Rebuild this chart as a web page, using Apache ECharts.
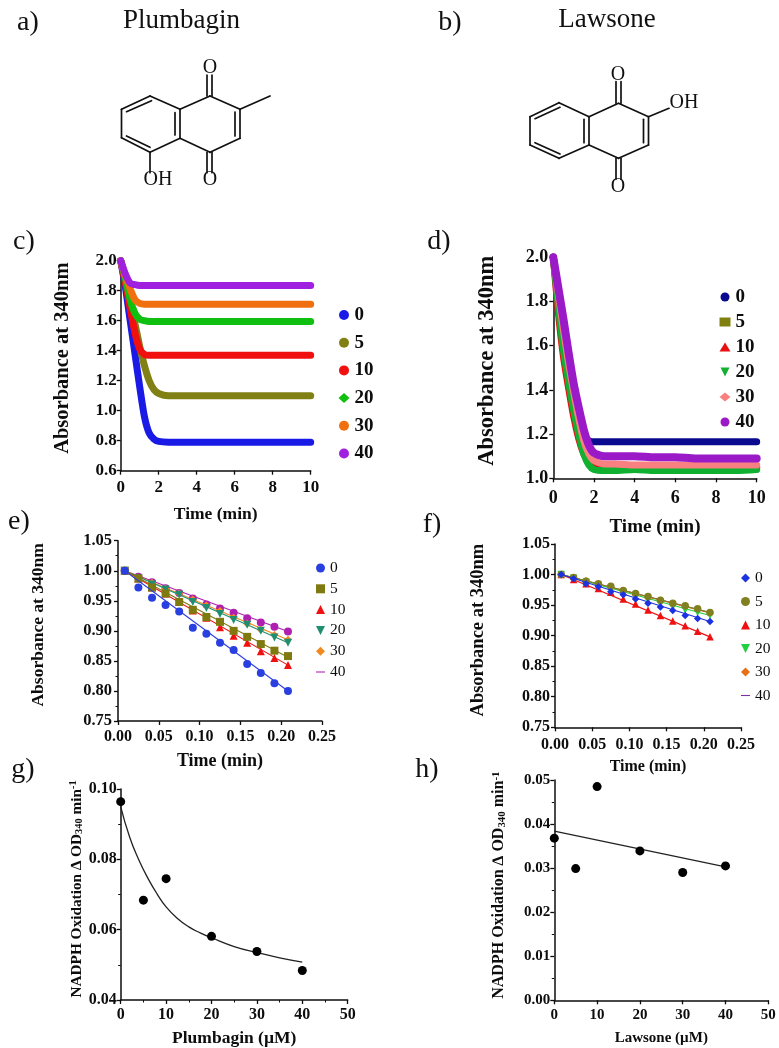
<!DOCTYPE html>
<html>
<head>
<meta charset="utf-8">
<style>html,body{margin:0;padding:0;background:#fff}#chart{width:779px;height:1048px}</style>
<script src="https://cdn.jsdelivr.net/npm/echarts@6/dist/echarts.min.js"></script>
</head>
<body>
<div id="chart"></div>
<script>
// ---- Data ----
const doses = ['0', '5', '10', '20', '30', '40'];

const timeLong = [0, 0.25, 0.5, 0.75, 1, 1.25, 1.5, 1.75, 2, 2.5, 3, 4, 5, 6, 7, 8, 9, 10];
const cDose0  = [2.0, 1.82, 1.60, 1.38, 1.16, 0.96, 0.85, 0.81, 0.795, 0.79, 0.79, 0.79, 0.79, 0.79, 0.79, 0.79, 0.79, 0.79];
const cDose5  = [2.0, 1.87, 1.72, 1.58, 1.43, 1.30, 1.20, 1.14, 1.115, 1.10, 1.10, 1.10, 1.10, 1.10, 1.10, 1.10, 1.10, 1.10];
const cDose10 = [2.0, 1.85, 1.68, 1.52, 1.41, 1.375, 1.37, 1.37, 1.37, 1.37, 1.37, 1.37, 1.37, 1.37, 1.37, 1.37, 1.37, 1.37];
const cDose20 = [2.0, 1.88, 1.74, 1.65, 1.61, 1.60, 1.595, 1.595, 1.595, 1.595, 1.595, 1.595, 1.595, 1.595, 1.595, 1.595, 1.595, 1.595];
const cDose30 = [2.0, 1.90, 1.81, 1.74, 1.715, 1.71, 1.71, 1.71, 1.71, 1.71, 1.71, 1.71, 1.71, 1.71, 1.71, 1.71, 1.71, 1.71];
const cDose40 = [2.0, 1.91, 1.85, 1.84, 1.835, 1.835, 1.835, 1.835, 1.835, 1.835, 1.835, 1.835, 1.835, 1.835, 1.835, 1.835, 1.835, 1.835];

const dDose0  = [2.0, 1.85, 1.70, 1.55, 1.42, 1.30, 1.20, 1.17, 1.165, 1.165, 1.165, 1.165, 1.165, 1.165, 1.165, 1.165, 1.165, 1.165];
const dDose5  = [2.0, 1.80, 1.60, 1.45, 1.32, 1.20, 1.12, 1.07, 1.05, 1.05, 1.05, 1.05, 1.05, 1.05, 1.05, 1.05, 1.05, 1.05];
const dDose10 = [2.0, 1.75, 1.55, 1.41, 1.28, 1.18, 1.11, 1.07, 1.05, 1.045, 1.045, 1.045, 1.045, 1.045, 1.045, 1.045, 1.045, 1.05];
const dDose20 = [2.0, 1.78, 1.58, 1.44, 1.31, 1.20, 1.11, 1.06, 1.04, 1.035, 1.035, 1.04, 1.035, 1.035, 1.035, 1.035, 1.035, 1.04];
const dDose30 = [2.0, 1.83, 1.67, 1.52, 1.39, 1.27, 1.17, 1.11, 1.08, 1.065, 1.065, 1.06, 1.06, 1.06, 1.06, 1.06, 1.06, 1.06];
const dDose40 = [2.0, 1.86, 1.72, 1.57, 1.43, 1.32, 1.22, 1.15, 1.115, 1.10, 1.10, 1.10, 1.095, 1.095, 1.09, 1.09, 1.09, 1.09];

const timeShort = [0.0083, 0.025, 0.0417, 0.0583, 0.075, 0.0917, 0.1083, 0.125, 0.1417, 0.1583, 0.175, 0.1917, 0.2083];
const eDose0  = [1.0, 0.972, 0.955, 0.943, 0.932, 0.905, 0.895, 0.880, 0.868, 0.845, 0.830, 0.813, 0.800];
const eDose5  = [1.0, 0.987, 0.972, 0.962, 0.948, 0.935, 0.923, 0.915, 0.900, 0.890, 0.878, 0.867, 0.858];
const eDose10 = [1.0, 0.987, 0.972, 0.962, 0.948, 0.934, 0.922, 0.906, 0.892, 0.880, 0.866, 0.855, 0.843];
const eDose20 = [1.0, 0.987, 0.977, 0.969, 0.960, 0.948, 0.938, 0.928, 0.918, 0.910, 0.900, 0.889, 0.880];
const eDose30 = [1.0, 0.988, 0.980, 0.970, 0.962, 0.952, 0.942, 0.933, 0.922, 0.912, 0.902, 0.893, 0.885];
const eDose40 = [1.0, 0.990, 0.981, 0.971, 0.963, 0.954, 0.944, 0.937, 0.930, 0.921, 0.914, 0.907, 0.899];
const eFitEnd = [0.800, 0.856, 0.843, 0.880, 0.885, 0.899];

const fDose0  = [1.0, 0.993, 0.985, 0.980, 0.972, 0.967, 0.960, 0.953, 0.947, 0.941, 0.933, 0.928, 0.923];
const fDose5  = [1.0, 0.995, 0.989, 0.985, 0.981, 0.974, 0.969, 0.964, 0.958, 0.953, 0.949, 0.944, 0.938];
const fDose10 = [1.0, 0.992, 0.985, 0.977, 0.971, 0.960, 0.952, 0.942, 0.933, 0.924, 0.916, 0.907, 0.898];
const fDose20 = [1.0, 0.994, 0.987, 0.982, 0.975, 0.970, 0.964, 0.958, 0.952, 0.947, 0.942, 0.938, 0.933];
const fDose30 = [1.0, 0.995, 0.990, 0.984, 0.979, 0.974, 0.968, 0.963, 0.958, 0.952, 0.948, 0.943, 0.937];
const fDose40 = [1.0, 0.995, 0.990, 0.985, 0.979, 0.974, 0.969, 0.964, 0.959, 0.953, 0.948, 0.943, 0.938];
const fFitEnd = [0.923, 0.938, 0.898, 0.933, 0.937, 0.938];

const concentrations = [0, 5, 10, 20, 30, 40];
const gRates = [0.0964, 0.0684, 0.0745, 0.0581, 0.0538, 0.0484];
const gFitX = [0, 2, 4, 6, 8, 10, 12.5, 15, 17.5, 20, 25, 30, 35, 40];
const gFitY = [0.0950, 0.0862, 0.0798, 0.0746, 0.0702, 0.0665, 0.0632, 0.0608, 0.0591, 0.0577, 0.0552, 0.0535, 0.0520, 0.0508];
const hRates = [0.0368, 0.0299, 0.0485, 0.0339, 0.0290, 0.0305];
const hFitX = [0, 40];
const hFitY = [0.0384, 0.0303];

// ---- Styles ----
const SERIF = '"Liberation Serif", "Times New Roman", serif';
const INK = '#0d0d0d';
const DOWN = 'path://M0 0H100L50 100Z';
const cColors = ['#1a1ae6', '#808015', '#f01010', '#10c010', '#f07010', '#a020e0'];
const dColors = ['#0a0a90', '#808010', '#e81010', '#10b030', '#f88080', '#9a1ac8'];
const eColors = ['#2a3fe0', '#7f7a10', '#ef1010', '#1f8f70', '#f08a20', '#b020b0'];
const fColors = ['#1c32e0', '#808020', '#ef1010', '#20d040', '#e87018', '#8030a0'];
const cSymbols = ['circle', 'circle', 'circle', 'diamond', 'circle', 'circle'];
const dSymbols = ['circle', 'rect', 'triangle', DOWN, 'diamond', 'circle'];
const eSymbols = ['circle', 'rect', 'triangle', DOWN, 'diamond', 'circle'];
const fSymbols = ['diamond', 'circle', 'triangle', DOWN, 'diamond', 'circle'];
const cWidths = [7, 7, 7, 7, 7, 7];
const dWidths = [7, 7, 7, 7, 7, 8];

const grids = [
  { left: 120.7, right: 310.7, top: 260.7, bottom: 470.7 },
  { left: 553.3, right: 756.7, top: 257.3, bottom: 478.3 },
  { left: 118,   right: 322,   top: 540.7, bottom: 721 },
  { left: 555,   right: 741,   top: 544,   bottom: 727.3 },
  { left: 120.7, right: 347.7, top: 789,   bottom: 1000 },
  { left: 554.3, right: 768.3, top: 780,   bottom: 1000.3 }
].map(g => ({ left: g.left, top: g.top, width: g.right - g.left, height: g.bottom - g.top, containLabel: false }));

function axis(type, idx, o) {
  return {
    type: 'value', gridIndex: idx, min: o.min, max: o.max, interval: o.interval,
    position: type === 'x' ? 'bottom' : 'left',
    name: o.name, nameLocation: 'middle', nameGap: o.gap,
    nameTextStyle: Object.assign({ fontFamily: SERIF, fontWeight: 'bold', fontSize: o.nameSize, color: INK,
      padding: [0, 0, 0, o.namePad || 0] }, o.nameExtra || {}),
    splitLine: { show: false },
    axisLine: { show: true, onZero: false, lineStyle: { color: INK, width: 1.5 } },
    axisTick: { show: true, length: 4, lineStyle: { color: INK, width: 1.3 } },
    minorTick: { show: !!o.minor, splitNumber: 2, length: 2.5, lineStyle: { color: INK, width: 1 } },
    axisLabel: {
      fontFamily: SERIF, fontWeight: 'bold', fontSize: o.labelSize, color: INK, margin: o.margin,
      showMinLabel: true, showMaxLabel: true, hideOverlap: false,
      formatter: v => Number(v).toFixed(o.dec)
    }
  };
}

const ABS = 'Absorbance at 340nm';
const TIME = 'Time (min)';
const rateRich = size => ({
  rich: {
    b: { fontFamily: SERIF, fontWeight: 'bold', fontSize: size, color: INK },
    s: { fontFamily: SERIF, fontWeight: 'bold', fontSize: size * 0.68, color: INK, padding: [0, 0, -6, 0] },
    p: { fontFamily: SERIF, fontWeight: 'bold', fontSize: size * 0.68, color: INK, padding: [0, 0, 6, 0] }
  }
});
const rateName = '{b|NADPH Oxidation \u2206 OD}{s|340}{b| min}{p|-1}';

const xAxes = [
  axis('x', 0, { min: 0, max: 10, interval: 2, dec: 0, name: TIME, gap: 35, nameSize: 17.5, labelSize: 17, margin: 8 }),
  axis('x', 1, { min: 0, max: 10, interval: 2, dec: 0, name: TIME, gap: 39, nameSize: 19, labelSize: 18, margin: 11 }),
  axis('x', 2, { min: 0, max: 0.25, interval: 0.05, dec: 2, name: TIME, gap: 31, nameSize: 18, labelSize: 16, margin: 8 }),
  axis('x', 3, { min: 0, max: 0.25, interval: 0.05, dec: 2, name: TIME, gap: 32, nameSize: 16, labelSize: 16, margin: 10 }),
  axis('x', 4, { min: 0, max: 50, interval: 10, dec: 0, name: 'Plumbagin (\u00b5M)', gap: 29, nameSize: 17.5, labelSize: 16, margin: 7, minor: true }),
  axis('x', 5, { min: 0, max: 50, interval: 10, dec: 0, name: 'Lawsone (\u00b5M)', gap: 30, nameSize: 15, labelSize: 15, margin: 7 })
];
const yAxes = [
  axis('y', 0, { min: 0.6, max: 2.0, interval: 0.2, dec: 1, name: ABS, gap: 47, nameSize: 20.5, namePad: 15, labelSize: 17, margin: 4 }),
  axis('y', 1, { min: 1.0, max: 2.0, interval: 0.2, dec: 1, name: ABS, gap: 55, nameSize: 22.5, namePad: 14, labelSize: 18, margin: 5 }),
  axis('y', 2, { min: 0.75, max: 1.05, interval: 0.05, dec: 2, name: ABS, gap: 71, nameSize: 17.5, namePad: 12, labelSize: 16.5, margin: 6, minor: true }),
  axis('y', 3, { min: 0.75, max: 1.05, interval: 0.05, dec: 2, name: ABS, gap: 67, nameSize: 18.5, namePad: 11, labelSize: 16, margin: 5, minor: true }),
  axis('y', 4, { min: 0.04, max: 0.10, interval: 0.02, dec: 2, name: rateName, gap: 36, nameSize: 15.3, namePad: 11, nameExtra: rateRich(15.3), labelSize: 16, margin: 4, minor: true }),
  axis('y', 5, { min: 0, max: 0.05, interval: 0.01, dec: 2, name: rateName, gap: 47, nameSize: 16, namePad: 10, nameExtra: rateRich(16), labelSize: 15, margin: 4, minor: true })
];

const zip = (xs, ys) => xs.map((x, i) => [x, ys[i]]);
const series = [];

function thick(panel, idx, arrays, colors, symbols, widths) {
  doses.forEach((d, i) => series.push({
    type: 'line', name: panel + ':' + d, xAxisIndex: idx, yAxisIndex: idx,
    data: zip(timeLong, arrays[i]), smooth: 0.25, clip: false, showSymbol: false, symbol: symbols[i], symbolSize: 6,
    color: colors[i], lineStyle: { color: colors[i], width: widths[i], cap: 'round', join: 'round' }, silent: true, z: 2 + i
  }));
}
thick('c', 0, [cDose0, cDose5, cDose10, cDose20, cDose30, cDose40], cColors, cSymbols, cWidths);
thick('d', 1, [dDose0, dDose5, dDose10, dDose20, dDose30, dDose40], dColors, dSymbols, dWidths);

function kinetics(panel, idx, arrays, fits, colors, symbols, sizes, hideLast) {
  for (let i = doses.length - 1; i >= 0; i--) {
    series.push({
      type: 'line', name: panel + 'fit:' + doses[i], xAxisIndex: idx, yAxisIndex: idx,
      data: [[timeShort[0], arrays[i][0]], [timeShort[timeShort.length - 1], fits[i]]],
      symbol: 'none', lineStyle: { color: colors[i], width: 1.1 }, silent: true, z: 3 + (doses.length - i)
    });
    series.push({
      type: 'scatter', name: panel + ':' + doses[i], xAxisIndex: idx, yAxisIndex: idx,
      data: zip(timeShort, arrays[i]), symbol: symbols[i], symbolSize: sizes[i],
      itemStyle: { color: colors[i], opacity: hideLast && i === doses.length - 1 ? 0 : 1 }, clip: false, silent: true, z: 3 + (doses.length - i)
    });
  }
}
kinetics('e', 2, [eDose0, eDose5, eDose10, eDose20, eDose30, eDose40], eFitEnd, eColors, eSymbols, [8, 8, 8, 8, 8, 8], false);
kinetics('f', 3, [fDose0, fDose5, fDose10, fDose20, fDose30, fDose40], fFitEnd, fColors, fSymbols, [7.5, 7.5, 7.5, 7.5, 7.5, 7.5], true);

function rates(name, idx, ys, fx, fy, smooth) {
  series.push({
    type: 'line', name: name + 'fit', xAxisIndex: idx, yAxisIndex: idx, data: zip(fx, fy), smooth: smooth,
    symbol: 'none', clip: false, lineStyle: { color: '#222', width: 1.3 }, silent: true, z: 3
  });
  series.push({
    type: 'scatter', name: name, xAxisIndex: idx, yAxisIndex: idx, data: zip(concentrations, ys),
    symbol: 'circle', symbolSize: 9, clip: false, itemStyle: { color: '#000', opacity: 1 }, silent: true, z: 4
  });
}
rates('g', 4, gRates, gFitX, gFitY, 0.5);
rates('h', 5, hRates, hFitX, hFitY, false);

function legend(panel, o, icons, colors, lineLast) {
  return {
    show: true, orient: 'vertical', left: o.left, top: o.top, padding: 0, selectedMode: false,
    itemWidth: o.iconW, itemHeight: o.iconH, itemGap: o.spacing - o.font,
    lineStyle: { width: 0, opacity: 0 },
    textStyle: { fontFamily: SERIF, fontWeight: o.weight, fontSize: o.font, color: INK },
    formatter: n => n.split(':')[1],
    data: doses.map((d, i) => {
      const item = { name: panel + ':' + d, itemStyle: { color: colors[i], opacity: 1 } };
      item.icon = lineLast && i === doses.length - 1 ? 'path://M0 44H100V56H0Z' : icons[i];
      return item;
    })
  };
}
const legends = [
  legend('c', { left: 338.5, top: 305.5, iconW: 11, iconH: 10, spacing: 27.7, font: 19, weight: 'bold' }, cSymbols, cColors),
  legend('d', { left: 719.5, top: 287.5, iconW: 11, iconH: 9, spacing: 25, font: 19, weight: 'bold' }, dSymbols, dColors),
  legend('e', { left: 316, top: 560, iconW: 9, iconH: 9, spacing: 20.3, font: 15.5, weight: 'normal' }, eSymbols, eColors, true),
  legend('f', { left: 741, top: 570, iconW: 9, iconH: 9, spacing: 23, font: 15.5, weight: 'normal' }, fSymbols, fColors, true)
];

// ---- Labels and chemical structures (not data) ----
const panelLabels = [
  ['a)', 28, 23], ['b)', 450, 23],
  ['c)', 24, 242], ['d)', 439, 242],
  ['e)', 19, 522], ['f)', 432, 525],
  ['g)', 23, 770], ['h)', 427, 770]
];
const moleculeTitles = [['Plumbagin', 181.5, 21], ['Lawsone', 607, 20]];

// bond endpoints: x in reference pixels x 2, y in reference pixels x 3
const plumbaginBonds = [
  [420,288,480,328],[480,328,540,288],[480,328,480,415],[470,336,470,408],[480,415,420,457],[420,457,360,415],
  [360,415,360,328],[360,328,420,288],[360,328,300,288],[300,288,243,328],[303,302,253,335],[243,328,243,413],
  [243,413,300,457],[253,408,300,442],[300,457,360,415],[350,338,350,405],
  [414,225,414,288],[424,225,424,288],[414,457,414,518],[424,457,424,518],[300,457,300,518]
];
const lawsoneBonds = [
  [1237,310,1297,350],[1297,350,1338,325],[1297,350,1297,435],[1287,358,1287,428],[1297,435,1237,475],[1237,475,1178,435],
  [1178,435,1178,350],[1178,350,1237,310],[1178,350,1118,308],[1118,308,1060,350],[1120,322,1070,356],[1060,350,1060,435],
  [1060,435,1118,475],[1070,428,1120,462],[1118,475,1178,435],[1168,358,1168,428],
  [1232,245,1232,310],[1242,245,1242,310],[1232,475,1232,538],[1242,475,1242,538]
];
const atomLabels = [
  ['O', 210, 68], ['OH', 158, 180], ['O', 210, 180],
  ['O', 618, 75], ['OH', 684, 103], ['O', 618, 187]
];

const graphicEls = [];
panelLabels.forEach(([t, x, y]) => graphicEls.push({
  type: 'text', x, y, silent: true,
  style: { text: t, font: '28px ' + SERIF, fill: '#111', textAlign: 'center', textVerticalAlign: 'middle' }
}));
moleculeTitles.forEach(([t, x, y]) => graphicEls.push({
  type: 'text', x, y, silent: true,
  style: { text: t, font: '27px ' + SERIF, fill: '#111', textAlign: 'center', textVerticalAlign: 'middle' }
}));
plumbaginBonds.concat(lawsoneBonds).forEach(b => graphicEls.push({
  type: 'line', silent: true,
  shape: { x1: b[0] / 2, y1: b[1] / 3, x2: b[2] / 2, y2: b[3] / 3 },
  style: { stroke: '#111', lineWidth: 1.7, lineCap: 'round' }
}));
atomLabels.forEach(([t, x, y]) => graphicEls.push({
  type: 'text', x, y, silent: true,
  style: { text: t, font: '20px ' + SERIF, fill: '#111', textAlign: 'center', textVerticalAlign: 'middle' }
}));

const chart = echarts.init(document.getElementById('chart'), null, { renderer: 'canvas' });
chart.setOption({
  animation: false,
  backgroundColor: '#ffffff',
  tooltip: { show: false },
  grid: grids,
  xAxis: xAxes,
  yAxis: yAxes,
  legend: legends,
  series: series,
  graphic: { elements: graphicEls }
});
</script>
</body>
</html>
